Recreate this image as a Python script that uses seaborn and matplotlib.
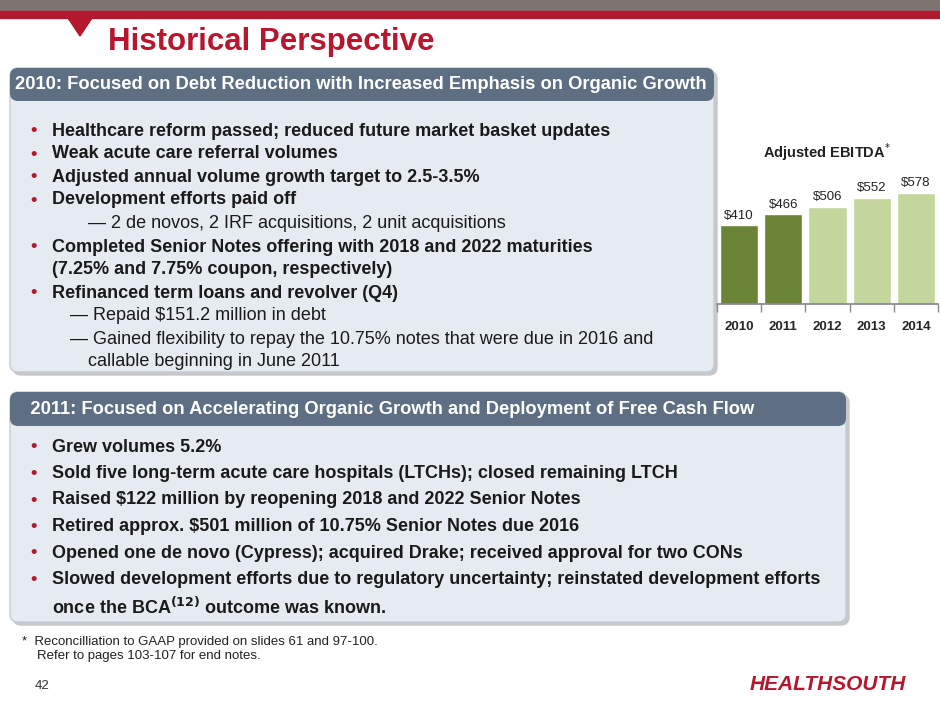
import matplotlib
matplotlib.use("Agg")
import matplotlib.pyplot as plt
import seaborn as sns
import pandas as pd
from matplotlib.patches import Rectangle, FancyBboxPatch, Polygon

years = ["2010", "2011", "2012", "2013", "2014"]
ebitda = [410, 466, 506, 552, 578]
labels = ["$410", "$466", "$506", "$552", "$578"]
colors = ["#6b8436", "#6b8436", "#c3d69b", "#c3d69b", "#c3d69b"]

sns.set_theme(style="white")
plt.rcParams['font.family'] = ['Liberation Sans', 'DejaVu Sans']

W, H = 940, 705
fig = plt.figure(figsize=(9.4, 7.05), dpi=100)
bg = fig.add_axes([0, 0, 1, 1])
bg.set_xlim(0, W); bg.set_ylim(H, 0); bg.axis("off")

RED = "#b5172f"
FS = 13
bg.add_patch(Rectangle((0, 0), W, 11, color="#7d7370"))
bg.add_patch(Rectangle((0, 11), W, 7, color=RED))
bg.add_patch(Polygon([(68, 18), (92, 18), (80, 36)], color=RED))
bg.text(108, 42, "Historical Perspective", color=RED, fontsize=22.5, fontweight="bold", va="center")

def box(x0, y0, x1, y1, hy, title):
    bg.add_patch(FancyBboxPatch((x0 + 3, y0 + 3), x1 - x0, y1 - y0, boxstyle="round,pad=0,rounding_size=8",
                                color="#c8c8c8", zorder=1))
    bg.add_patch(FancyBboxPatch((x0, y0), x1 - x0, y1 - y0, boxstyle="round,pad=0,rounding_size=8",
                                facecolor="#e6ebf1", edgecolor="#c5ccd6", zorder=2))
    bg.add_patch(FancyBboxPatch((x0, y0), x1 - x0, hy - y0, boxstyle="round,pad=0,rounding_size=8",
                                facecolor="#5e6f84", edgecolor="none", zorder=3))
    bg.text(x0 + 5, (y0 + hy) / 2, title, color="white", fontsize=13.2,
            fontweight="bold", va="center", zorder=4)

box(10, 68, 714, 372, 101, "2010: Focused on Debt Reduction with Increased Emphasis on Organic Growth")
box(10, 392, 846, 622, 426, "   2011: Focused on Accelerating Organic Growth and Deployment of Free Cash Flow")

def bullet(y, txt):
    bg.text(30, y, "•", color=RED, fontsize=13, fontweight="bold", va="center", zorder=5)
    bg.text(52, y, txt, color="#1a1a1a", fontsize=FS, fontweight="bold", va="center", zorder=5)

def sub(x, y, txt):
    bg.text(x, y, txt, color="#1a1a1a", fontsize=FS, va="center", zorder=5)

bullet(131, "Healthcare reform passed; reduced future market basket updates")
bullet(154, "Weak acute care referral volumes")
bullet(177, "Adjusted annual volume growth target to 2.5-3.5%")
bullet(200, "Development efforts paid off")
sub(88, 223, "— 2 de novos, 2 IRF acquisitions, 2 unit acquisitions")
bullet(247, "Completed Senior Notes offering with 2018 and 2022 maturities")
bg.text(52, 270, "(7.25% and 7.75% coupon, respectively)", color="#1a1a1a", fontsize=FS, fontweight="bold", va="center", zorder=5)
bullet(293, "Refinanced term loans and revolver (Q4)")
sub(70, 316, "— Repaid $151.2 million in debt")
sub(70, 339, "— Gained flexibility to repay the 10.75% notes that were due in 2016 and")
sub(88, 361, "callable beginning in June 2011")

y = 447
for t in ["Grew volumes 5.2%",
          "Sold five long-term acute care hospitals (LTCHs); closed remaining LTCH",
          "Raised $122 million by reopening 2018 and 2022 Senior Notes",
          "Retired approx. $501 million of 10.75% Senior Notes due 2016",
          "Opened one de novo (Cypress); acquired Drake; received approval for two CONs",
          "Slowed development efforts due to regulatory uncertainty; reinstated development efforts"]:
    bullet(y, t); y += 26.5
bg.text(52, 607, "once the BCA$^{\\mathbf{(12)}}$ outcome was known.", color="#1a1a1a", fontsize=FS, fontweight="bold", va="center", zorder=5)

bg.text(22, 642, "*  Reconcilliation to GAAP provided on slides 61 and 97-100.", fontsize=9.5, color="#222222", va="center")
bg.text(37, 656, "Refer to pages 103-107 for end notes.", fontsize=9.5, color="#222222", va="center")
bg.text(35, 686, "42", fontsize=9.5, color="#333333", va="center")
bg.text(906, 685, "HEALTHSOUTH", color=RED, fontsize=15, fontweight="heavy", style="italic", ha="right", va="center")

bg.text(827, 152, "Adjusted EBITDA$^{*}$", fontsize=10.5, fontweight="bold", ha="center", va="center", color="#222222")

ax = fig.add_axes([717 / W, (H - 304) / H, 221 / W, 150 / H])
df = pd.DataFrame({"year": years, "v": ebitda})
sns.barplot(data=df, x="year", y="v", hue="year", palette=colors, legend=False, ax=ax, width=0.86, saturation=1)
ax.set_ylim(0, 780)
ax.set_xlim(-0.5, 4.5)
ax.patch.set_alpha(0)
for s in ["top", "right", "left"]:
    ax.spines[s].set_visible(False)
ax.spines["bottom"].set_color("#888888")
ax.set_yticks([]); ax.set_xlabel(""); ax.set_ylabel("")
ax.set_xticks([i + 0.5 for i in range(-1, 5)], minor=True)
ax.tick_params(axis="x", which="minor", length=6, color="#888888", bottom=True)
ax.tick_params(axis="x", which="major", length=0, pad=12, labelsize=9.5)
for lab in ax.get_xticklabels():
    lab.set_fontweight("bold")
for i, (v, l) in enumerate(zip(ebitda, labels)):
    ax.text(i, v + 18, l, ha="center", va="bottom", fontsize=9.5, color="#222222")

fig.savefig("out.png", dpi=100)
